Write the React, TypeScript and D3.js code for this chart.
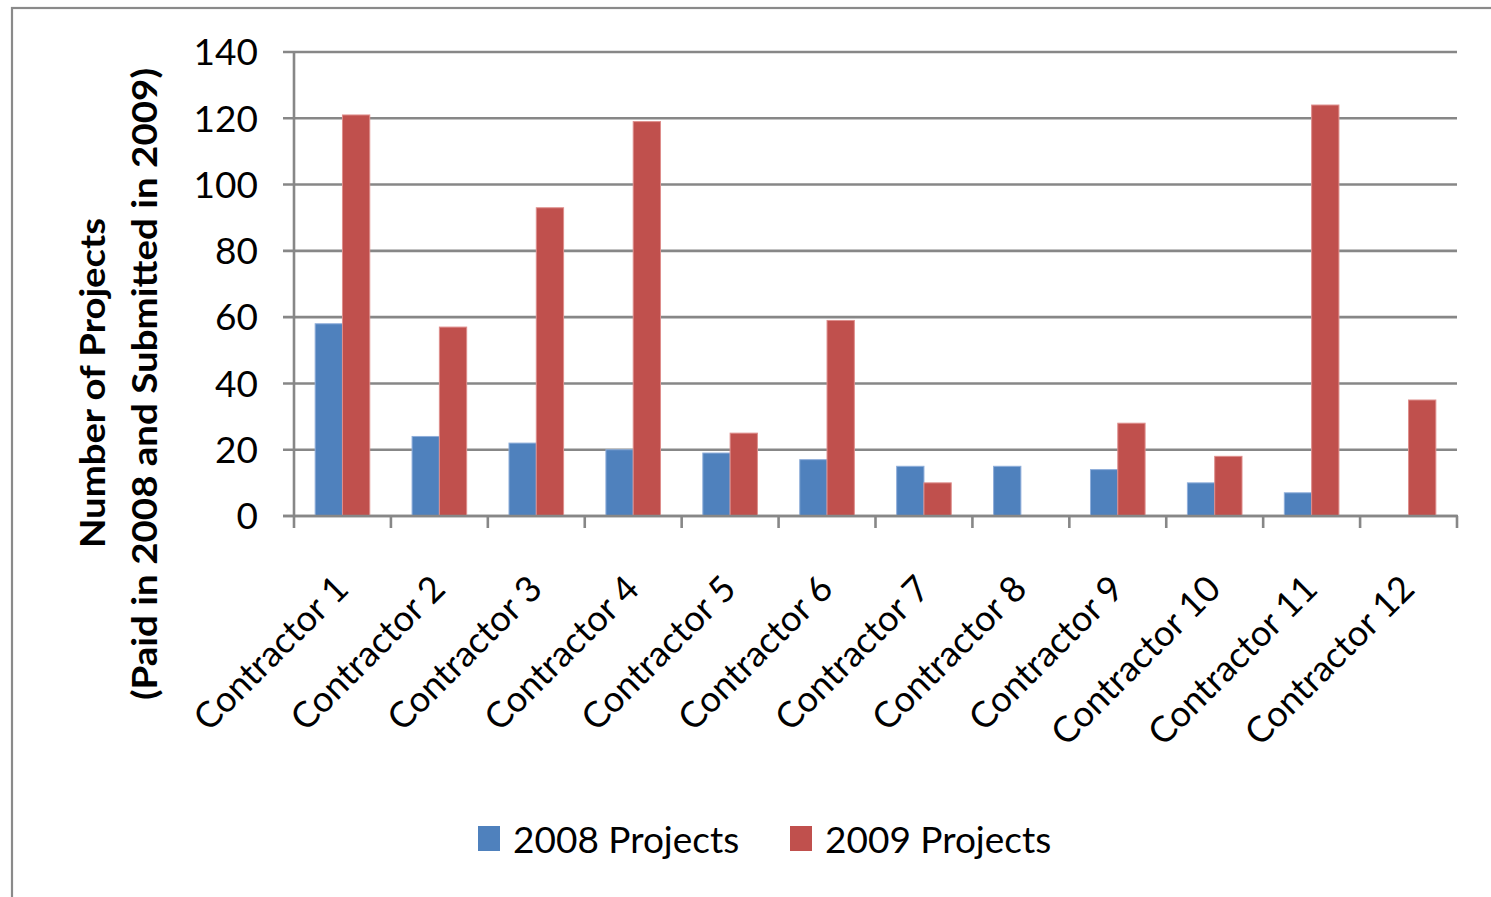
import React from "react";
import * as d3 from "d3";

const contractors = [
  "Contractor 1", "Contractor 2", "Contractor 3", "Contractor 4",
  "Contractor 5", "Contractor 6", "Contractor 7", "Contractor 8",
  "Contractor 9", "Contractor 10", "Contractor 11", "Contractor 12",
];
const projects2008 = [58, 24, 22, 20, 19, 17, 15, 15, 14, 10, 7, 0];
const projects2009 = [121, 57, 93, 119, 25, 59, 10, 0, 28, 18, 124, 35];
const seriesNames = ["2008 Projects", "2009 Projects"];
const seriesColors = ["#4F81BD", "#C0504D"];
const seriesEdges = ["#8FAEDA", "#DE8E8C"];
const yTicks = [0, 20, 40, 60, 80, 100, 120, 140];

const W = 1491;
const H = 897;
const FONT = "Lato, 'Open Sans', sans-serif";
const GRID = "#878787";

export default function App() {
  const x = d3.scaleBand<string>().domain(contractors).range([294, 1457]).padding(0);
  const y = d3.scaleLinear().domain([0, 140]).range([516, 52]);
  const step = x.bandwidth();
  const barW = step / 3.55;
  const series = [projects2008, projects2009];

  return (
    <svg width={W} height={H} style={{ position: "absolute", left: 0, top: 0, background: "#fff" }}>
      <rect x={12} y={8} width={W} height={H} fill="#fff" stroke="#8a8a8a" strokeWidth={2.2} />

      {/* horizontal gridlines with short ticks left of the axis */}
      {yTicks.map((t) => (
        <g key={t}>
          <line x1={283} x2={1457} y1={y(t)} y2={y(t)} stroke={GRID} strokeWidth={2.6} />
          <text x={258} y={y(t)} dy="0.36em" textAnchor="end" fontFamily={FONT} fontSize={37} fill="#000">
            {t}
          </text>
        </g>
      ))}

      {/* bars */}
      {series.map((vals, si) =>
        vals.map((v, i) => {
          const c = contractors[i];
          const cx = (x(c) as number) + step / 2;
          const bx = cx - barW + si * barW;
          if (v <= 0) return null;
          return (
            <rect
              key={`${si}-${i}`}
              x={bx}
              y={y(v)}
              width={barW}
              height={y(0) - y(v)}
              fill={seriesColors[si]}
              stroke={seriesEdges[si]}
              strokeWidth={1}
            />
          );
        })
      )}

      {/* axes */}
      <line x1={294} x2={294} y1={52} y2={516} stroke={GRID} strokeWidth={2.6} />
      <line x1={283} x2={1458} y1={516} y2={516} stroke={GRID} strokeWidth={2.6} />
      {d3.range(contractors.length + 1).map((k) => {
        const tx = 294 + k * step;
        return <line key={k} x1={tx} x2={tx} y1={516} y2={528} stroke={GRID} strokeWidth={2.6} />;
      })}

      {/* category labels */}
      {contractors.map((c) => {
        const ax = (x(c) as number) + step / 2 + 8;
        const ay = 591;
        return (
          <text
            key={c}
            transform={`translate(${ax},${ay}) rotate(-45)`}
            textAnchor="end"
            fontFamily={FONT}
            fontSize={36}
            fill="#000"
          >
            {c}
          </text>
        );
      })}

      {/* y-axis title */}
      <g transform="translate(93,383) rotate(-90)">
        <text x={-165} y={0} dy="0.35em" textLength={330} lengthAdjust="spacingAndGlyphs" fontFamily={FONT} fontWeight="bold" fontSize={34} fill="#000">
          Number of Projects
        </text>
      </g>
      <g transform="translate(145,384) rotate(-90)">
        <text x={-316} y={0} dy="0.35em" textLength={632} lengthAdjust="spacingAndGlyphs" fontFamily={FONT} fontWeight="bold" fontSize={34} fill="#000">
          (Paid in 2008 and Submitted in 2009)
        </text>
      </g>

      {/* legend */}
      {seriesNames.map((n, i) => {
        const lx = i === 0 ? 478 : 790;
        return (
          <g key={n}>
            <rect x={lx} y={826} width={22} height={25} fill={seriesColors[i]} />
            <text x={lx + 35} y={853} fontFamily={FONT} fontSize={37} fill="#000">
              {n}
            </text>
          </g>
        );
      })}
    </svg>
  );
}
